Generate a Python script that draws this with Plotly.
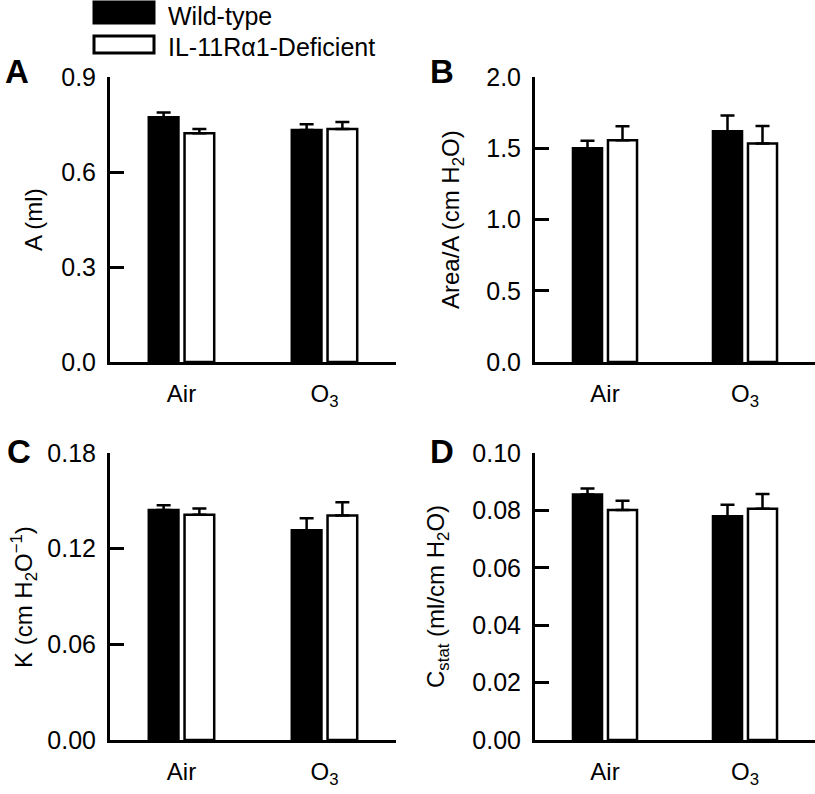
import plotly.graph_objects as go
from plotly.subplots import make_subplots

# data (mean, upper SEM)
groups = ["Air", "O3"]
group_labels = ["Air", "O<sub>3</sub>"]
series_names = ["Wild-type", "IL-11R\u03b11-Deficient"]

a_wt = [0.773, 0.733]
a_wt_err = [0.015, 0.018]
a_ko = [0.722, 0.736]
a_ko_err = [0.014, 0.022]

area_wt = [1.50, 1.62]
area_wt_err = [0.053, 0.11]
area_ko = [1.557, 1.534]
area_ko_err = [0.098, 0.123]

k_wt = [0.1443, 0.1316]
k_wt_err = [0.003, 0.0075]
k_ko = [0.1412, 0.1408]
k_ko_err = [0.004, 0.0083]

cstat_wt = [0.0855, 0.0780]
cstat_wt_err = [0.0021, 0.0040]
cstat_ko = [0.0801, 0.0806]
cstat_ko_err = [0.0033, 0.0051]

W, H = 815, 794
FONT = "Liberation Sans, Arial, Helvetica, sans-serif"

panels = [
    # (wt, wt_err, ko, ko_err, tickvals, tickformat, title, letter)
    (a_wt, a_wt_err, a_ko, a_ko_err, [0, 0.3, 0.6, 0.9], ".1f",
     "A (ml)", "A"),
    (area_wt, area_wt_err, area_ko, area_ko_err, [0, 0.5, 1.0, 1.5, 2.0], ".1f",
     "Area/A (cm H<sub>2</sub>O)", "B"),
    (k_wt, k_wt_err, k_ko, k_ko_err, [0, 0.06, 0.12, 0.18], ".2f",
     "K (cm H<sub>2</sub>O<sup>\u22121</sup>)", "C"),
    (cstat_wt, cstat_wt_err, cstat_ko, cstat_ko_err, [0, 0.02, 0.04, 0.06, 0.08, 0.10], ".2f",
     "C<sub>stat</sub> (ml/cm H<sub>2</sub>O)", "D"),
]

# pixel boxes of each plot area: (left, right, top, bottom)
boxes = [(110, 396, 77, 362), (535, 815, 77, 362),
         (110, 396, 453, 740), (535, 815, 453, 740)]
# axis title centres and letter centres in pixels
title_pos = [(33, 220), (452, 220), (24, 597), (437, 597)]
letter_pos = [(17, 71), (442, 71), (19, 452), (442, 452)]

fig = make_subplots(rows=2, cols=2)

for i, (wt, wt_err, ko, ko_err, tvals, tfmt, title, letter) in enumerate(panels):
    r, c = i // 2 + 1, i % 2 + 1
    for vals, errs, color in ((wt, wt_err, "black"), (ko, ko_err, "white")):
        fig.add_trace(go.Bar(
            x=groups, y=vals,
            marker=dict(color=color, line=dict(color="black", width=2.5)),
            error_y=dict(type="data", symmetric=False, array=errs,
                         arrayminus=[0] * len(errs),
                         color="black", thickness=2.5, width=7),
            showlegend=False,
        ), row=r, col=c)

    left, right, top, bottom = boxes[i]
    fig.update_xaxes(
        domain=[left / W, right / W], range=[-0.5, 1.5],
        tickvals=groups, ticktext=group_labels,
        showline=True, linewidth=3, linecolor="black", ticks="",
        ticklabelstandoff=8, automargin=False,
        tickfont=dict(size=24, color="black", family=FONT),
        showgrid=False, zeroline=False, fixedrange=True,
        row=r, col=c)
    fig.update_yaxes(
        domain=[1 - bottom / H, 1 - top / H], range=[0, tvals[-1]],
        tickvals=tvals, tickformat=tfmt,
        showline=True, linewidth=3, linecolor="black",
        ticks="inside", ticklen=14, tickwidth=3, tickcolor="black",
        ticklabelstandoff=6, automargin=False,
        tickfont=dict(size=25, color="black", family=FONT),
        showgrid=False, zeroline=False,
        row=r, col=c)

    tx, ty = title_pos[i]
    fig.add_annotation(text=title, x=tx / W, y=1 - ty / H, xref="paper", yref="paper",
                       textangle=-90, showarrow=False, xanchor="center", yanchor="middle",
                       font=dict(size=24, color="black", family=FONT))
    lx, ly = letter_pos[i]
    fig.add_annotation(text="<b>%s</b>" % letter, x=lx / W, y=1 - ly / H,
                       xref="paper", yref="paper", showarrow=False,
                       xanchor="center", yanchor="middle",
                       font=dict(size=33, color="black", family=FONT))

# legend drawn by hand so the swatches match the large boxes of the original
legend_rows = [(series_names[0], "black", 2, 23, 16), (series_names[1], "white", 36, 53, 47)]
for name, color, y0, y1, ytext in legend_rows:
    fig.add_shape(type="rect", xref="paper", yref="paper",
                  x0=94 / W, x1=154 / W, y0=1 - y1 / H, y1=1 - y0 / H,
                  fillcolor=color, line=dict(color="black", width=3))
    fig.add_annotation(text=name, x=167 / W, y=1 - ytext / H,
                       xref="paper", yref="paper", showarrow=False,
                       xanchor="left", yanchor="middle", borderpad=0,
                       font=dict(size=25, color="black", family=FONT))

fig.update_layout(
    width=W, height=H,
    margin=dict(l=0, r=0, t=0, b=0, autoexpand=False),
    barmode="group", bargap=0.5, bargroupgap=0.17,
    plot_bgcolor="white", paper_bgcolor="white",
    font=dict(family=FONT, color="black"),
)

# the page body has a default 8px margin; drop it so the figure sits at 0,0
fig.write_html("out.html", config={"displayModeBar": False},
               post_script="document.body.style.margin = '0';")
